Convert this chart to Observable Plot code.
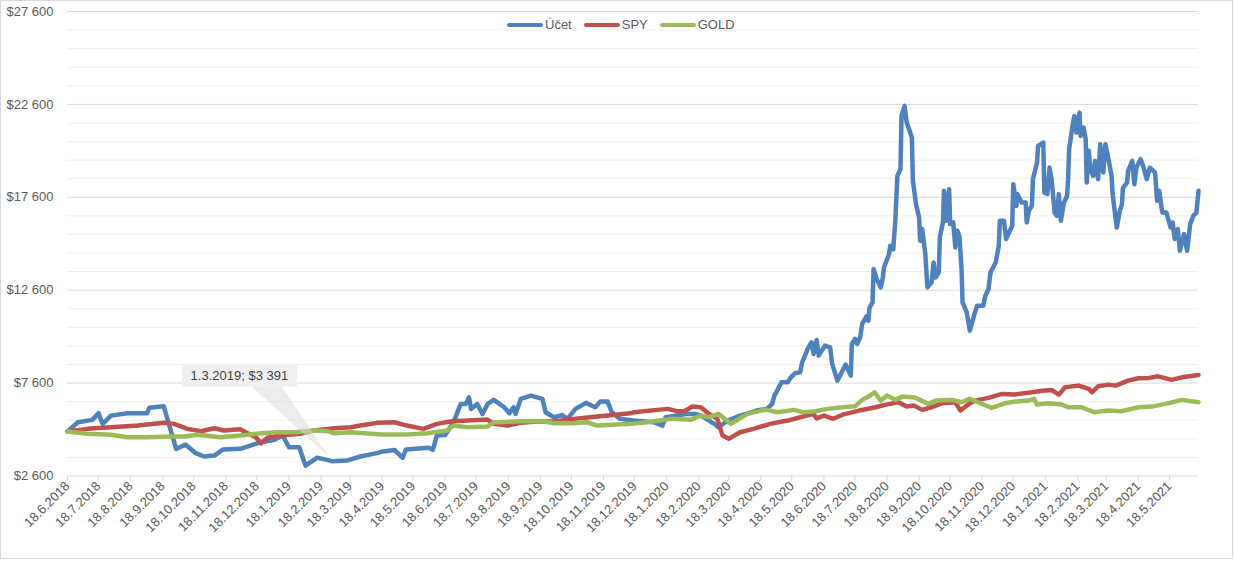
<!DOCTYPE html>
<html>
<head>
<meta charset="utf-8">
<script src="https://cdn.jsdelivr.net/npm/d3@7"></script>
<script src="https://cdn.jsdelivr.net/npm/@observablehq/plot@0.6"></script>
<style>
  html, body { margin: 0; padding: 0; background: #fff; }
  #wrap { position: relative; width: 1235px; height: 561px; overflow: hidden;
          font-family: "Liberation Sans", Arial, sans-serif; }
  #border { position: absolute; left: 0; top: 0; width: 1231px; height: 557px;
            border: 1px solid #d9d9d9; pointer-events: none; }
  #legend { position: absolute; left: 507px; top: 17px; display: flex; align-items: center;
            font-size: 13px; color: #595959; white-space: nowrap; }
  #legend .item { display: flex; align-items: center; margin-right: 12px; }
  #legend .sw { width: 36px; height: 4px; border-radius: 2px; margin-right: 2px; }
  svg { display: block; }
</style>
</head>
<body>
<div id="wrap">
  <div id="chart"></div>
  <div id="legend"></div>
  <div id="border"></div>
</div>
<script>
// ---------- DATA ----------
const seriesNames = ["Účet", "SPY", "GOLD"];
const seriesColors = ["#4F81BD", "#C0504D", "#9BBB59"];

const uctetDates = ["2018-06-18","2018-06-28","2018-07-12","2018-07-18","2018-07-22","2018-07-30","2018-08-15","2018-09-03","2018-09-05","2018-09-19",
"2018-10-01","2018-10-10","2018-10-20","2018-10-28","2018-11-07","2018-11-15","2018-12-02","2018-12-14","2018-12-22","2019-01-04",
"2019-01-12","2019-01-18","2019-01-28","2019-02-03","2019-02-14","2019-02-24","2019-03-01","2019-03-15","2019-03-28","2019-04-13",
"2019-04-17","2019-04-30","2019-05-08","2019-05-11","2019-06-02","2019-06-06","2019-06-10","2019-06-18","2019-06-26","2019-07-03",
"2019-07-08","2019-07-11","2019-07-13","2019-07-19","2019-07-24","2019-07-29","2019-08-04","2019-08-14","2019-08-19","2019-08-23",
"2019-08-25","2019-08-30","2019-09-09","2019-09-20","2019-09-23","2019-10-01","2019-10-09","2019-10-14","2019-10-22","2019-11-01",
"2019-11-10","2019-11-15","2019-11-22","2019-11-26","2019-12-04","2019-12-17","2020-01-06","2020-01-14","2020-01-17","2020-02-07",
"2020-02-15","2020-02-23","2020-03-04","2020-03-08","2020-03-17","2020-03-29","2020-04-14","2020-04-24","2020-04-29","2020-05-01",
"2020-05-08","2020-05-14","2020-05-17","2020-05-21","2020-05-26","2020-05-28","2020-06-03","2020-06-06","2020-06-08","2020-06-11",
"2020-06-13","2020-06-19","2020-06-24","2020-06-26","2020-07-01","2020-07-09","2020-07-14","2020-07-15","2020-07-18","2020-07-20",
"2020-07-23","2020-07-25","2020-07-29","2020-07-31","2020-08-01","2020-08-04","2020-08-05","2020-08-08","2020-08-12","2020-08-14",
"2020-08-15","2020-08-20","2020-08-21","2020-08-24","2020-08-26","2020-08-28","2020-08-31","2020-09-01","2020-09-04","2020-09-06",
"2020-09-11","2020-09-12","2020-09-15","2020-09-18","2020-09-19","2020-09-21","2020-09-24","2020-09-26","2020-09-30","2020-10-02",
"2020-10-04","2020-10-07","2020-10-08","2020-10-11","2020-10-12","2020-10-14","2020-10-17","2020-10-18","2020-10-21","2020-10-23",
"2020-10-25","2020-10-27","2020-10-29","2020-10-30","2020-11-03","2020-11-06","2020-11-10","2020-11-13","2020-11-19","2020-11-21",
"2020-11-24","2020-11-26","2020-12-01","2020-12-04","2020-12-05","2020-12-09","2020-12-11","2020-12-17","2020-12-18","2020-12-21",
"2020-12-22","2020-12-26","2020-12-30","2020-12-31","2021-01-02","2021-01-05","2021-01-06","2021-01-10","2021-01-11","2021-01-16",
"2021-01-17","2021-01-20","2021-01-22","2021-01-24","2021-01-27","2021-01-29","2021-01-31","2021-02-02","2021-02-05","2021-02-08",
"2021-02-09","2021-02-10","2021-02-13","2021-02-15","2021-02-17","2021-02-20","2021-02-21","2021-02-24","2021-02-26","2021-02-27",
"2021-03-01","2021-03-02","2021-03-05","2021-03-07","2021-03-10","2021-03-12","2021-03-15","2021-03-17","2021-03-20","2021-03-23",
"2021-03-24","2021-03-28","2021-03-31","2021-04-02","2021-04-03","2021-04-07","2021-04-08","2021-04-12","2021-04-14","2021-04-16",
"2021-04-20","2021-04-23","2021-04-26","2021-04-29","2021-05-04","2021-05-06","2021-05-08","2021-05-11","2021-05-15","2021-05-19",
"2021-05-21","2021-05-23","2021-05-26","2021-05-28","2021-06-01","2021-06-04","2021-06-07","2021-06-10","2021-06-13","2021-06-15"];
const uctetValues = [5000,5490,5620,5980,5400,5850,5980,5980,6270,6350,
4060,4290,3830,3650,3700,4025,4060,4280,4420,4550,
4780,4150,4150,3160,3580,3470,3391,3430,3650,3830,
3900,4000,3580,4030,4120,4010,4780,4810,5490,6480,
6480,6840,6210,6480,5940,6480,6700,6300,5980,6300,
5940,6750,6930,6750,6030,5760,5880,5675,6210,6535,
6300,6605,6605,6030,5675,5584,5490,5315,5760,5944,
5940,5760,5406,5223,5584,5852,6121,6213,6482,6900,
7643,7643,7911,8126,8180,8718,9524,9793,9170,9922,
9078,9616,9524,8632,7734,8594,8003,9707,9976,9707,
10062,10782,11175,10960,11643,11944,13739,13201,12750,13288,
13825,14546,14992,14800,16336,18755,19115,21980,22518,21620,
20814,18487,17233,16513,15261,15890,14546,12750,13019,14094,
13288,13556,15438,16245,17949,16336,18039,16157,16245,14900,
15798,15500,13739,11944,11406,10422,11228,11766,11766,12304,
12664,13556,14094,14992,16336,16336,15352,16067,18308,17142,
17771,17319,17319,16245,16874,17142,18577,19470,20368,20545,
17858,17771,19201,18577,16782,16605,17771,16336,17319,17680,
18577,20190,21351,21980,21082,22158,20905,21351,20724,18394,
20100,19293,18755,19561,18577,20458,18933,20458,19650,18755,
17771,15976,16874,17233,18100,18394,19024,19561,18308,19201,
19650,19201,18577,19201,18933,17411,17949,16782,16782,15976,
16245,15352,15890,14723,15620,14723,16157,16605,16782,17949];

const spyDates = ["2018-06-18","2018-07-07","2018-07-30","2018-08-25","2018-09-19","2018-09-29","2018-10-12","2018-10-25","2018-11-07","2018-11-16",
"2018-12-02","2018-12-09","2018-12-17","2018-12-22","2018-12-28","2019-01-10","2019-01-29","2019-02-11","2019-03-03","2019-03-19",
"2019-03-28","2019-04-13","2019-04-30","2019-05-12","2019-05-28","2019-06-10","2019-06-23","2019-07-09","2019-07-29","2019-08-04",
"2019-08-17","2019-08-30","2019-09-18","2019-10-01","2019-10-20","2019-11-05","2019-11-22","2019-12-14","2019-12-17","2020-01-19",
"2020-01-28","2020-02-04","2020-02-12","2020-02-20","2020-02-28","2020-03-07","2020-03-12","2020-03-18","2020-03-29","2020-04-11",
"2020-04-27","2020-05-14","2020-05-26","2020-06-08","2020-06-11","2020-06-18","2020-06-27","2020-07-06","2020-07-22","2020-08-07",
"2020-08-16","2020-08-29","2020-09-06","2020-09-13","2020-09-21","2020-09-30","2020-10-10","2020-10-23","2020-10-28","2020-11-05",
"2020-11-11","2020-11-24","2020-12-07","2020-12-20","2021-01-05","2021-01-15","2021-01-24","2021-01-31","2021-02-06","2021-02-19",
"2021-03-01","2021-03-04","2021-03-10","2021-03-20","2021-03-27","2021-04-08","2021-04-18","2021-04-28","2021-05-07","2021-05-20",
"2021-05-30","2021-06-15"];
const spyValues = [5000,5137,5223,5315,5460,5406,5137,5008,5170,5046,
5116,4901,4686,4363,4654,4777,4869,5046,5170,5223,
5315,5460,5492,5315,5137,5406,5530,5584,5637,5406,
5315,5460,5546,5530,5675,5761,5852,5976,6030,6213,
6090,6090,6336,6299,5944,5675,4777,4600,4954,5137,
5406,5584,5761,5944,5700,5850,5680,5900,6121,6299,
6428,6567,6336,6390,6159,6299,6514,6567,6121,6480,
6659,6804,7019,6990,7105,7190,7234,6981,7374,7465,
7290,7105,7428,7519,7465,7734,7858,7880,7965,7772,
7911,8040];

const goldDates = ["2018-06-18","2018-07-07","2018-07-30","2018-08-15","2018-09-03","2018-09-26","2018-10-09","2018-10-22","2018-11-13","2018-12-02",
"2018-12-22","2019-01-07","2019-01-23","2019-02-11","2019-02-24","2019-03-03","2019-03-19","2019-04-17","2019-05-12","2019-06-01",
"2019-06-20","2019-06-26","2019-07-09","2019-07-29","2019-08-04","2019-08-30","2019-09-21","2019-10-01","2019-10-20","2019-11-02",
"2019-11-12","2019-12-14","2019-12-30","2020-01-22","2020-02-10","2020-02-20","2020-02-28","2020-03-08","2020-03-20","2020-04-05",
"2020-04-18","2020-04-24","2020-05-04","2020-05-20","2020-05-29","2020-06-10","2020-06-21","2020-07-06","2020-07-18","2020-07-25",
"2020-07-31","2020-08-06","2020-08-12","2020-08-18","2020-08-26","2020-09-02","2020-09-14","2020-09-27","2020-10-04","2020-10-20",
"2020-10-29","2020-11-06","2020-11-14","2020-11-27","2020-12-10","2020-12-20","2021-01-02","2021-01-07","2021-01-10","2021-01-21",
"2021-02-03","2021-02-09","2021-02-22","2021-03-06","2021-03-20","2021-04-02","2021-04-18","2021-05-01","2021-05-14","2021-05-30",
"2021-06-15"];
const goldValues = [5000,4869,4815,4686,4686,4724,4724,4815,4686,4777,
4901,4954,4954,5046,5020,4901,4954,4831,4831,4901,
5046,5315,5223,5260,5492,5546,5546,5438,5438,5492,
5315,5406,5492,5675,5621,5852,5760,5944,5406,5944,
6121,6159,6030,6159,6030,6084,6213,6299,6350,6697,
6874,7105,6659,6928,6700,6874,6820,6482,6659,6697,
6567,6750,6567,6266,6514,6605,6659,6750,6444,6514,
6444,6300,6300,6030,6121,6090,6299,6336,6482,6697,
6567];

const yMajorTicks = [2600, 7600, 12600, 17600, 22600, 27600];
const yMinorTicks = [3600,4600,5600,6600,8600,9600,10600,11600,13600,14600,15600,16600,18600,19600,20600,21600,23600,24600,25600,26600];
const xDomain = ["2018-06-18", "2021-06-15"];
const xTickStart = "2018-06-18", xTickEnd = "2021-05-18";
const annotationDate = "2019-03-01", annotationValue = 3391;

// ---------- BUILD ----------
const parse = d3.utcParse("%Y-%m-%d");
const rows = [];
[[uctetDates, uctetValues], [spyDates, spyValues], [goldDates, goldValues]].forEach(([ds, vs], k) => {
  ds.forEach((d, i) => rows.push({ date: parse(d), value: vs[i], series: seriesNames[k] }));
});
const xTicks = d3.utcMonth.range(d3.utcMonth.floor(parse(xTickStart)), d3.utcDay.offset(parse(xTickEnd), 1))
  .map(m => d3.utcDay.offset(m, 17));
const fmtDate = d => `${d.getUTCDate()}.${d.getUTCMonth() + 1}.${d.getUTCFullYear()}`;
const fmtMoney = v => "$" + d3.format(",")(v).replace(/,/g, " ");

const plot = Plot.plot({
  width: 1235, height: 561,
  marginLeft: 67, marginRight: 37, marginTop: 11, marginBottom: 85.5,
  style: { fontFamily: '"Liberation Sans", Arial, sans-serif', fontSize: "13px", background: "transparent", overflow: "visible" },
  x: { type: "utc", domain: xDomain.map(parse) },
  y: { domain: [2600, 27600] },
  color: { domain: seriesNames, range: seriesColors },
  marks: [
    Plot.ruleY(yMinorTicks, { stroke: "#efefef", strokeWidth: 1 }),
    Plot.ruleY(yMajorTicks, { stroke: "#d9d9d9", strokeWidth: 1 }),
    Plot.axisY({ ticks: yMajorTicks, tickFormat: fmtMoney, tickSize: 0, tickPadding: 14, fill: "#595959", label: null }),
    Plot.axisX({ ticks: xTicks, tickFormat: fmtDate, tickRotate: -45, tickSize: 5, tickPadding: 3, stroke: "#d9d9d9", fill: "#595959", label: null }),
    Plot.line(rows, { x: "date", y: "value", z: "series", stroke: "series", strokeWidth: 4.5, strokeLinejoin: "round", strokeLinecap: "round" })
  ]
});
document.getElementById("chart").appendChild(plot);

// annotation callout, positioned through the plot's scales
const sx = plot.scale("x"), sy = plot.scale("y");
const px = sx.apply(parse(annotationDate)), py = sy.apply(annotationValue);
const g = d3.select(plot).append("g");
g.append("path")
  .attr("d", `M${px - 80},${py - 74}L${px - 50},${py - 74}L${px - 3},${py - 4}Z`)
  .attr("fill", "#d9d9d9").attr("fill-opacity", 0.5);
g.append("rect").attr("x", px - 150).attr("y", py - 97).attr("width", 115).attr("height", 23)
  .attr("fill", "#f0f0f0");
g.append("text").attr("x", px - 92.5).attr("y", py - 81).attr("text-anchor", "middle")
  .attr("fill", "#404040").style("font-size", "13px")
  .text(`${fmtDate(parse(annotationDate))}; ${fmtMoney(annotationValue)}`);

// legend
const leg = d3.select("#legend");
seriesNames.forEach((n, i) => {
  const it = leg.append("div").attr("class", "item");
  it.append("div").attr("class", "sw").style("background", seriesColors[i]);
  it.append("span").text(n);
});
</script>
</body>
</html>
